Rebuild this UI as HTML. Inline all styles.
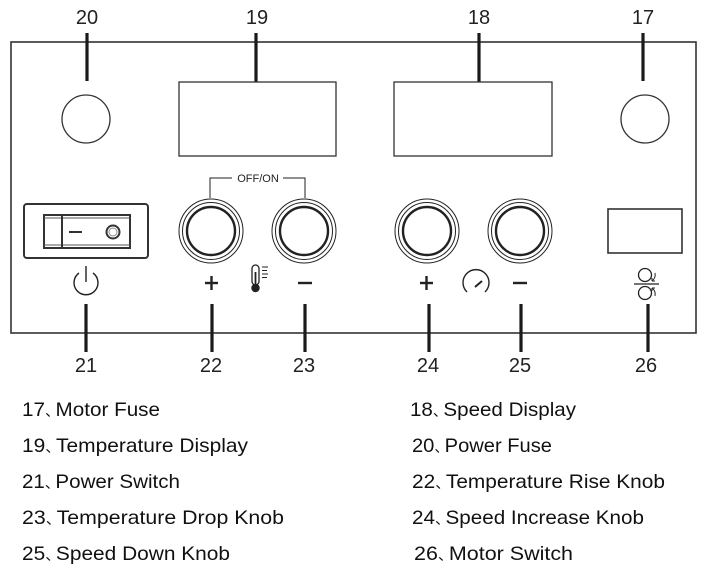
<!DOCTYPE html>
<html><head><style>body{margin:0;background:#fff}svg{display:block}</style></head><body>
<svg width="709" height="573" viewBox="0 0 709 573" xmlns="http://www.w3.org/2000/svg" font-family="Liberation Sans, Noto Sans CJK SC, sans-serif">
<rect x="11" y="42" width="685" height="291" fill="none" stroke="#333" stroke-width="1.6"/>
<g fill="#222" font-size="20" text-anchor="middle">
<text x="87" y="24">20</text><text x="257" y="24">19</text><text x="479" y="24">18</text><text x="643" y="24">17</text>
<text x="86" y="372">21</text><text x="211" y="372">22</text><text x="304" y="372">23</text><text x="428" y="372">24</text><text x="520" y="372">25</text><text x="646" y="372">26</text>
</g>
<g stroke="#1a1a1a" stroke-width="3.2">
<line x1="87" y1="33" x2="87" y2="81"/><line x1="256" y1="33" x2="256" y2="82"/><line x1="479" y1="33" x2="479" y2="82"/><line x1="643" y1="33" x2="643" y2="81"/>
<line x1="86" y1="304" x2="86" y2="352"/><line x1="212" y1="304" x2="212" y2="352"/><line x1="305" y1="304" x2="305" y2="352"/><line x1="429" y1="304" x2="429" y2="352"/><line x1="521" y1="304" x2="521" y2="352"/><line x1="648" y1="304" x2="648" y2="352"/>
</g>
<g fill="none" stroke="#333" stroke-width="1.3">
<circle cx="86" cy="119" r="24"/><circle cx="645" cy="119" r="24"/>
<rect x="179" y="82" width="157" height="74"/><rect x="394" y="82" width="158" height="74"/>
<rect x="608" y="209" width="74" height="44" stroke-width="1.6"/>
</g>
<g fill="none" stroke="#222">
<g transform="translate(211,231)"><circle r="32" stroke-width="1"/><circle r="28.5" stroke-width="1"/><circle r="24" stroke-width="2.4"/></g>
<g transform="translate(304,231)"><circle r="32" stroke-width="1"/><circle r="28.5" stroke-width="1"/><circle r="24" stroke-width="2.4"/></g>
<g transform="translate(427,231)"><circle r="32" stroke-width="1"/><circle r="28.5" stroke-width="1"/><circle r="24" stroke-width="2.4"/></g>
<g transform="translate(520,231)"><circle r="32" stroke-width="1"/><circle r="28.5" stroke-width="1"/><circle r="24" stroke-width="2.4"/></g>
</g>
<polyline points="210,198 210,178 232,178" fill="none" stroke="#222" stroke-width="1"/>
<polyline points="283,178 305,178 305,198" fill="none" stroke="#222" stroke-width="1"/>
<text x="258" y="182" font-size="11" text-anchor="middle" fill="#222">OFF/ON</text>
<rect x="24" y="204" width="124" height="54" rx="3" fill="none" stroke="#333" stroke-width="2"/>
<rect x="44" y="215" width="86" height="33" fill="none" stroke="#333" stroke-width="2"/>
<line x1="44" y1="218" x2="130" y2="218" stroke="#555" stroke-width="1"/>
<line x1="44" y1="245" x2="130" y2="245" stroke="#555" stroke-width="1"/>
<line x1="62" y1="215" x2="62" y2="248" stroke="#333" stroke-width="2"/>
<line x1="69" y1="232" x2="82" y2="232" stroke="#333" stroke-width="2"/>
<circle cx="113" cy="232" r="6.5" fill="none" stroke="#333" stroke-width="2"/>
<circle cx="113" cy="232" r="4" fill="none" stroke="#888" stroke-width="1"/>
<path d="M79,273 A12,12 0 1 0 93,273" fill="none" stroke="#222" stroke-width="1.4"/>
<line x1="86" y1="266" x2="86" y2="282" stroke="#222" stroke-width="1.4"/>
<g stroke="#222" stroke-width="2.4">
<line x1="205" y1="283" x2="218" y2="283"/><line x1="211.5" y1="276" x2="211.5" y2="290"/>
<line x1="298" y1="283" x2="312" y2="283"/>
<line x1="420" y1="283" x2="433" y2="283"/><line x1="426.5" y1="276" x2="426.5" y2="290"/>
<line x1="513" y1="283" x2="527" y2="283"/>
</g>
<rect x="252" y="265" width="7" height="20" rx="3.5" fill="none" stroke="#222" stroke-width="1.3"/>
<circle cx="255.5" cy="288" r="4.2" fill="#222"/>
<line x1="255.5" y1="272" x2="255.5" y2="288" stroke="#222" stroke-width="1.8"/>
<g stroke="#222" stroke-width="1"><line x1="262" y1="267" x2="268" y2="267"/><line x1="262" y1="270.5" x2="267" y2="270.5"/><line x1="262" y1="274" x2="268" y2="274"/><line x1="262" y1="277.5" x2="267" y2="277.5"/></g>
<path d="M467,292 A13,13 0 1 1 485,292" fill="none" stroke="#222" stroke-width="1.4"/>
<line x1="475" y1="287" x2="482" y2="281" stroke="#222" stroke-width="2"/>
<circle cx="645" cy="275" r="6.5" fill="none" stroke="#222" stroke-width="1.3"/>
<line x1="634" y1="284" x2="659" y2="284" stroke="#222" stroke-width="1.3"/>
<circle cx="645" cy="293" r="6.5" fill="none" stroke="#222" stroke-width="1.3"/>
<path d="M655,273 q1,5 -3,8 M652,281 l0,-3 M652,281 l3,0" fill="none" stroke="#222" stroke-width="1"/>
<path d="M655,296 q1,-5 -3,-8 M652,288 l0,3 M652,288 l3,0" fill="none" stroke="#222" stroke-width="1"/>
<g fill="#111" font-size="19.5">
<text x="22" y="416" textLength="138" lengthAdjust="spacingAndGlyphs">17<tspan font-size="14">、</tspan><tspan dx="-4">Motor Fuse</tspan></text>
<text x="22" y="452" textLength="226" lengthAdjust="spacingAndGlyphs">19<tspan font-size="14">、</tspan><tspan dx="-4">Temperature Display</tspan></text>
<text x="22" y="488" textLength="158" lengthAdjust="spacingAndGlyphs">21<tspan font-size="14">、</tspan><tspan dx="-4">Power Switch</tspan></text>
<text x="22" y="524" textLength="262" lengthAdjust="spacingAndGlyphs">23<tspan font-size="14">、</tspan><tspan dx="-4">Temperature Drop Knob</tspan></text>
<text x="22" y="560" textLength="208" lengthAdjust="spacingAndGlyphs">25<tspan font-size="14">、</tspan><tspan dx="-4">Speed Down Knob</tspan></text>
<text x="410" y="416" textLength="166" lengthAdjust="spacingAndGlyphs">18<tspan font-size="14">、</tspan><tspan dx="-4">Speed Display</tspan></text>
<text x="412" y="452" textLength="140" lengthAdjust="spacingAndGlyphs">20<tspan font-size="14">、</tspan><tspan dx="-4">Power Fuse</tspan></text>
<text x="412" y="488" textLength="253" lengthAdjust="spacingAndGlyphs">22<tspan font-size="14">、</tspan><tspan dx="-4">Temperature Rise Knob</tspan></text>
<text x="412" y="524" textLength="232" lengthAdjust="spacingAndGlyphs">24<tspan font-size="14">、</tspan><tspan dx="-4">Speed Increase Knob</tspan></text>
<text x="414" y="560" textLength="159" lengthAdjust="spacingAndGlyphs">26<tspan font-size="14">、</tspan><tspan dx="-4">Motor Switch</tspan></text>
</g>
</svg>
</body></html>
